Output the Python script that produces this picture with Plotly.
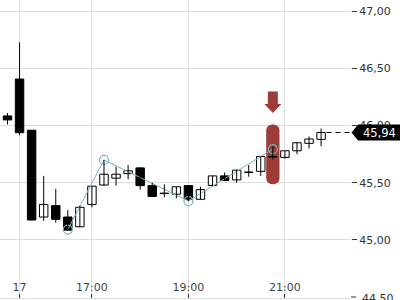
import plotly.graph_objects as go

# ---- data (15-minute candles, index-based time axis) ----
idx = list(range(27))
opens = [46.085, 46.408, 45.96, 45.20, 45.30, 45.20, 45.115, 45.31, 45.48, 45.54,
         45.58, 45.63, 45.475, 45.405, 45.40, 45.475, 45.355, 45.477, 45.56, 45.525,
         45.59, 45.60, 45.725, 45.722, 45.78, 45.845, 45.88]
highs = [46.11, 46.73, 45.96, 45.56, 45.445, 45.26, 45.30, 45.47, 45.70, 45.64,
         45.655, 45.635, 45.50, 45.486, 45.465, 45.48, 45.465, 45.56, 45.59, 45.615,
         45.655, 45.73, 45.815, 45.78, 45.855, 45.905, 45.975]
lows = [46.01, 45.915, 45.17, 45.167, 45.15, 45.08, 45.11, 45.285, 45.475, 45.475,
        45.53, 45.44, 45.378, 45.372, 45.363, 45.34, 45.355, 45.47, 45.518, 45.50,
        45.553, 45.56, 45.705, 45.71, 45.75, 45.80, 45.82]
closes = [46.05, 45.938, 45.174, 45.31, 45.18, 45.085, 45.285, 45.47, 45.575, 45.575,
          45.605, 45.475, 45.38, 45.407, 45.465, 45.355, 45.44, 45.56, 45.52, 45.61,
          45.592, 45.73, 45.73, 45.78, 45.85, 45.883, 45.94]

# zigzag pivots
zz_idx = [5, 8, 15, 22]
zz_val = [45.09, 45.70, 45.34, 45.795]

# signal marker
signal_idx = 22
signal_low = 45.486
signal_high = 46.011

tick_idx = [1, 7, 15, 23]
tick_text = ["17", "17:00", "19:00", "21:00"]
y_ticks = [44.5, 45.0, 45.5, 46.0, 46.5, 47.0]

X_RANGE = [-0.622, 28.48]
Y_RANGE = [44.491, 47.10]
RED = "#9c3b37"
TEAL = "#79b3bd"
GRID = "#dedede"
TXT = "#333"

fig = go.Figure()

# signal bar (rounded)
fig.add_trace(go.Bar(x=[signal_idx], y=[signal_high - signal_low], base=[signal_low],
                     width=1.1, marker=dict(color=RED, line=dict(width=0), cornerradius="50%"),
                     hoverinfo="skip", showlegend=False))

# zigzag
fig.add_trace(go.Scatter(x=zz_idx, y=zz_val, mode="lines+markers",
                         line=dict(color=TEAL, width=1),
                         marker=dict(symbol="circle-open", size=9, color=TEAL, line=dict(width=1.2)),
                         hoverinfo="skip", showlegend=False))

# wicks
wx, wy = [], []
for i, h, l in zip(idx, highs, lows):
    wx += [i, i, None]
    wy += [l, h, None]
fig.add_trace(go.Scatter(x=wx, y=wy, mode="lines", line=dict(color="black", width=1),
                         hoverinfo="skip", showlegend=False))

# bodies
base = [min(o, c) for o, c in zip(opens, closes)]
hgt = [max(abs(c - o), 0.004) for o, c in zip(opens, closes)]
fills = ["white" if c >= o else "black" for o, c in zip(opens, closes)]
fig.add_trace(go.Bar(x=idx, y=hgt, base=base, width=0.7,
                     marker=dict(color=fills, line=dict(color="black", width=1)),
                     hoverinfo="skip", showlegend=False))

# last price dashed line
last = closes[-1]
fig.add_trace(go.Scatter(x=[idx[-1] + 0.45, X_RANGE[1]], y=[last, last], mode="lines",
                         line=dict(color="black", width=1, dash="5px,4px"),
                         hoverinfo="skip", showlegend=False, cliponaxis=False))

# arrow above signal bar
fig.add_shape(type="path", xref="x", yref="y", xsizemode="pixel", ysizemode="pixel",
              xanchor=signal_idx, yanchor=signal_high,
              path="M 0,11.5 L -8.5,20.5 L -5,20.5 L -5,33 L 5,33 L 5,20.5 L 8.5,20.5 Z",
              fillcolor=RED, line=dict(width=0))


def yfrac(v):
    return (v - Y_RANGE[0]) / (Y_RANGE[1] - Y_RANGE[0])


# bottom-edge tick label (plotly drops the one cut by the page edge)
bottom_tick = y_ticks[0]
fig.add_shape(type="line", xref="paper", yref="paper", xsizemode="pixel",
              xanchor=1, x0=0, x1=5, y0=yfrac(bottom_tick), y1=yfrac(bottom_tick),
              line=dict(color=TXT, width=1))
fig.add_annotation(xref="paper", yref="paper", x=1, y=yfrac(bottom_tick), xanchor="left",
                   yanchor="middle", xshift=9, yshift=-2, showarrow=False,
                   text=f"{bottom_tick:.2f}".replace(".", ","),
                   font=dict(color=TXT, size=11, family="DejaVu Sans"))

# last price tag
fig.add_shape(type="path", xref="paper", yref="paper", xsizemode="pixel", ysizemode="pixel",
              xanchor=1, yanchor=yfrac(last),
              path="M 0.5,0 L 7,8 L 50,8 L 50,-8 L 7,-8 Z",
              fillcolor="black", line=dict(width=0), layer="above")
fig.add_annotation(xref="paper", yref="y", x=1, y=last, xanchor="left", yanchor="middle",
                   xshift=10, text=f"{last:.2f}".replace(".", ","), showarrow=False,
                   font=dict(color="white", size=11.5, family="DejaVu Sans"))

fig.update_layout(
    width=400, height=300,
    margin=dict(l=0, r=49, t=0, b=2),
    paper_bgcolor="white", plot_bgcolor="white",
    barmode="overlay", separators=",.",
    font=dict(family="DejaVu Sans", size=11, color=TXT),
    showlegend=False,
    xaxis=dict(range=X_RANGE, tickmode="array", tickvals=tick_idx, ticktext=tick_text,
               showgrid=True, gridcolor=GRID, gridwidth=1, zeroline=False,
               ticks="inside", ticklen=4, tickcolor=TXT, ticklabelposition="inside",
               showline=True, linecolor=GRID, linewidth=1, automargin=False),
    yaxis=dict(range=Y_RANGE, side="right", tickmode="array", tickvals=y_ticks[1:],
               tickformat=".2f", showgrid=True, gridcolor=GRID, gridwidth=1,
               zeroline=False, ticks="outside", ticklen=5, tickcolor=TXT,
               showline=False, automargin=False),
)

fig.write_html("out.html")
